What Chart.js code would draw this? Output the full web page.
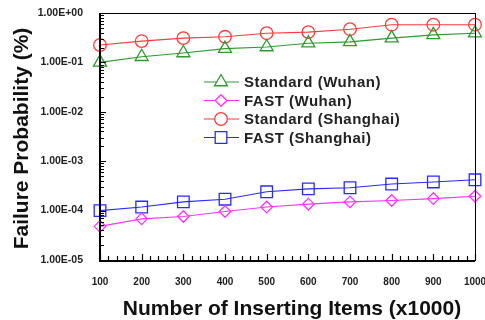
<!DOCTYPE html>
<html><head><meta charset="utf-8">
<script src="https://cdn.jsdelivr.net/npm/chart.js@4/dist/chart.umd.min.js"></script>
<style>html,body{margin:0;padding:0;background:#fff}#wrap{width:485px;height:320px}</style>
</head><body><div id="wrap"><canvas id="c"></canvas></div>
<script>
const items = [100, 200, 300, 400, 500, 600, 700, 800, 900, 1000];
const standardWuhan = [0.10, 0.13, 0.155, 0.19, 0.205, 0.245, 0.26, 0.31, 0.36, 0.39];
const fastWuhan = [4.8e-5, 6.8e-5, 7.6e-5, 9.6e-5, 1.18e-4, 1.35e-4, 1.5e-4, 1.6e-4, 1.75e-4, 1.95e-4];
const standardShanghai = [0.225, 0.27, 0.31, 0.33, 0.39, 0.41, 0.47, 0.58, 0.58, 0.58];
const fastShanghai = [1.0e-4, 1.18e-4, 1.5e-4, 1.7e-4, 2.4e-4, 2.75e-4, 2.9e-4, 3.45e-4, 3.8e-4, 4.2e-4];
const yTickValues = [1, 0.1, 0.01, 0.001, 0.0001, 0.00001];
const seriesNames = ['Standard (Wuhan)', 'FAST (Wuhan)', 'Standard (Shanghai)', 'FAST (Shanghai)'];
const xTitle = 'Number of Inserting Items (x1000)';
const yTitle = 'Failure Probability (%)';

const FONT = '"Liberation Sans", Arial, sans-serif';
function fmtE(v){
  const e = Math.round(Math.log10(v));
  const m = v / Math.pow(10, e);
  const s = e < 0 ? '-' : '+';
  return m.toFixed(2) + 'E' + s + String(Math.abs(e)).padStart(2,'0');
}
function mk(label, data, color, style, r){
  return {label, data: items.map((x,i)=>({x, y:data[i]})), borderColor: color, backgroundColor:'rgba(0,0,0,0)',
    pointStyle: style, pointRadius: r, pointBorderWidth: 1.3, borderWidth: 1.1, pointBorderColor: color,
    pointBackgroundColor: 'rgba(0,0,0,0)', tension: 0, clip: false};
}
const datasets = [
  mk(seriesNames[0], standardWuhan, '#2f9a2f', 'triangle', 7.5),
  mk(seriesNames[1], fastWuhan, '#ff33ff', 'rectRot', 5.8),
  mk(seriesNames[2], standardShanghai, '#ff3b3b', 'circle', 6.3),
  mk(seriesNames[3], fastShanghai, '#2a2aff', 'rect', 8.2)
];

const framePlugin = {
  id: 'frame',
  afterDraw(chart){
    const ctx = chart.ctx, a = chart.chartArea, xs = chart.scales.x, ys = chart.scales.y;
    ctx.save();
    ctx.strokeStyle = '#000';
    ctx.lineWidth = 1;
    ctx.strokeRect(Math.round(a.left)+0.5, Math.round(a.top)+0.5, Math.round(a.right-a.left), Math.round(a.bottom-a.top));
    ctx.lineWidth = 2;
    ctx.beginPath();
    ctx.moveTo(a.left, a.top); ctx.lineTo(a.left, a.bottom+1); ctx.lineTo(a.right, a.bottom+1);
    ctx.stroke();
    // ticks
    ctx.lineWidth = 1.2;
    ctx.beginPath();
    for (let v = xs.min; v <= xs.max + 0.001; v += 20){
      const px = Math.round(xs.getPixelForValue(v)) + 0.5;
      const len = (Math.round(v) % 100 === 0) ? 6 : 4;
      ctx.moveTo(px, a.bottom); ctx.lineTo(px, a.bottom - len);
    }
    for (let e = -5; e <= 0; e++){
      for (let m = 1; m <= 9; m++){
        const v = m * Math.pow(10, e);
        if (v > ys.max * 1.0001) break;
        const py = Math.round(ys.getPixelForValue(v)) + 0.5;
        const len = m === 1 ? 6 : 4;
        ctx.moveTo(a.left, py); ctx.lineTo(a.left + len, py);
      }
    }
    ctx.stroke();
    // legend
    const lx0 = 204, lx1 = 239, mx = 221, tx = 244, ty0 = 82, dy = 18.5;
    chart.data.datasets.forEach((ds, i) => {
      const y = ty0 + i * dy;
      ctx.strokeStyle = ds.borderColor; ctx.lineWidth = 1.1;
      ctx.beginPath(); ctx.moveTo(lx0, y); ctx.lineTo(lx1, y); ctx.stroke();
      ctx.lineWidth = 1.3;
      ctx.fillStyle = '#fff';
      Chart.helpers.drawPoint(ctx, {pointStyle: ds.pointStyle, radius: ds.pointRadius, rotation: 0, borderWidth: 1.3}, mx, y);
      ctx.fillStyle = '#222';
      ctx.font = 'bold 15px ' + FONT;
      ctx.letterSpacing = '0.5px';
      ctx.textBaseline = 'middle'; ctx.textAlign = 'left';
      ctx.fillText(ds.label, tx, y + 1);
      ctx.letterSpacing = '0px';
    });
    // axis titles
    ctx.fillStyle = '#111';
    ctx.font = 'bold 21px ' + FONT;
    ctx.textAlign = 'center'; ctx.textBaseline = 'alphabetic';
    ctx.fillText(xTitle, 292, 315);
    ctx.translate(28, 138.5);
    ctx.rotate(-Math.PI / 2);
    ctx.fillText(yTitle, 0, 0);
    ctx.restore();
  }
};

new Chart(document.getElementById('c'), {
  type: 'line',
  data: { datasets },
  options: {
    responsive: true, maintainAspectRatio: false, animation: false,
    devicePixelRatio: 1,
    layout: { padding: { top: 13, right: 10, left: 0, bottom: 0 } },
    plugins: { legend: { display: false }, tooltip: { enabled: false } },
    scales: {
      x: {
        type: 'linear', min: 100, max: 1000,
        grid: { display: false },
        border: { display: false },
        ticks: { stepSize: 100, padding: 8, color: '#222', maxRotation: 0, autoSkip: false,
          callback: (v) => String(v),
          font: { family: FONT, size: 10, weight: 'bold' } },
        title: { display: false },
        afterFit(s){ s.height = 60; s.paddingLeft = 0; s.paddingRight = 0; }
      },
      y: {
        type: 'logarithmic', min: 1e-5, max: 1,
        grid: { display: false },
        border: { display: false },
        afterBuildTicks(s){ s.ticks = yTickValues.slice().reverse().map(v => ({value: v, major: true})); },
        ticks: { padding: 9, color: '#222', autoSkip: false,
          callback: (v) => fmtE(v),
          font: { family: FONT, size: 10.5, weight: 'bold' } },
        title: { display: false },
        afterFit(s){ s.width = 100; s.paddingTop = 0; s.paddingBottom = 0; }
      }
    }
  },
  plugins: [framePlugin]
});
</script>
</body></html>
